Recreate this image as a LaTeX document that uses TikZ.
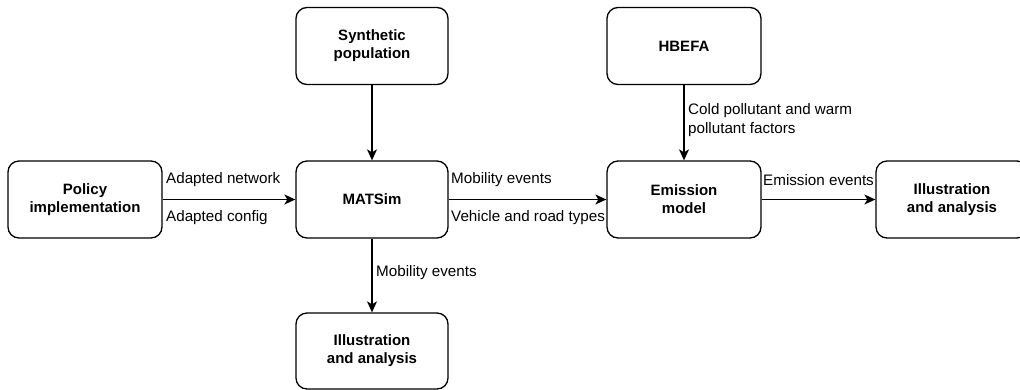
\documentclass[tikz,border=0pt]{standalone}
\usepackage{fontspec}
\setmainfont{Liberation Sans}
\usetikzlibrary{arrows.meta}
\begin{document}
\begin{tikzpicture}[x=1pt,y=-1pt,
  box/.style={draw, line width=1.3pt, rounded corners=11pt, minimum width=152pt, minimum height=77pt, align=center, font=\fontsize{15}{18}\selectfont\bfseries, inner sep=0pt},
  lbl/.style={font=\fontsize{15.2}{19}\selectfont, inner sep=0pt, align=left},
  arr/.style={line width=1.3pt, -{Stealth[length=11pt,width=10pt,inset=3pt]}}]
\useasboundingbox (0,0) rectangle (1020,389);
\clip (0,0) rectangle (1020,389);
\node[box] (syn) at (372,46) {Synthetic\\population};
\node[box, minimum width=154pt] (hbefa) at (684,46) {HBEFA};
\node[box, minimum width=154pt] (pol) at (85,199.5) {Policy\\implementation};
\node[box] (mat) at (372,199.5) {MATSim};
\node[box, minimum width=154pt] (emi) at (684,199.5) {Emission\\model};
\node[box] (ill1) at (952,199.5) {Illustration\\and analysis};
\node[box, minimum height=76pt] (ill2) at (372,351) {Illustration\\and analysis};
\draw[arr] (syn) -- (mat);
\draw[arr] (hbefa) -- (emi);
\draw[arr] (pol) -- (mat);
\draw[arr] (mat) -- (emi);
\draw[arr] (emi) -- (ill1);
\draw[arr] (mat) -- (ill2);
\node[lbl, anchor=west] (l1) at (166,180) {Adapted network};
\node[lbl, anchor=west] (l2) at (166,218) {Adapted config};
\node[lbl, anchor=west] (l3) at (451,180) {Mobility events};
\node[lbl, anchor=west] (l4) at (451,218) {Vehicle and road types};
\node[lbl, anchor=west] (l5) at (688,120) {Cold pollutant and warm\\pollutant factors};
\node[lbl, anchor=west] (l6) at (763,180) {Emission events};
\node[lbl, anchor=west] (l7) at (376,273) {Mobility events};
\end{tikzpicture}
\end{document}
